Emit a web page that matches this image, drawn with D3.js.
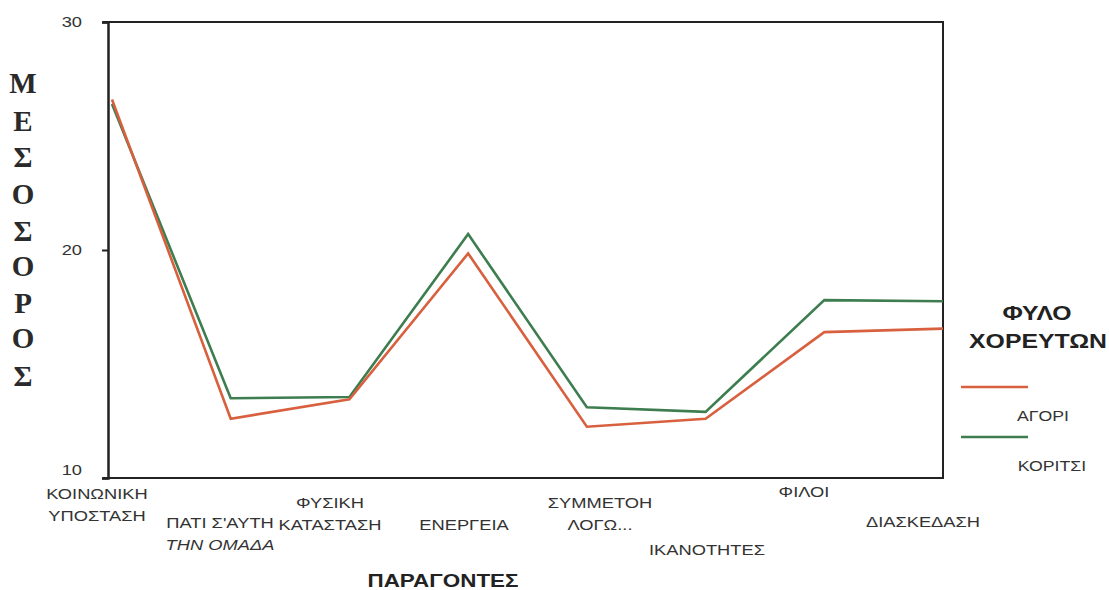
<!DOCTYPE html>
<html><head><meta charset="utf-8">
<script src="https://cdn.jsdelivr.net/npm/d3@7"></script>
<style>
body{margin:0;background:#fff;}
text{font-family:"Liberation Sans",Arial,sans-serif;fill:#333;}
text.serif{font-family:"Liberation Serif","Times New Roman",serif;fill:#2a2a2a;}
</style></head>
<body>
<svg id="c" width="1109" height="590"></svg>
<script>
const categories = ["ΚΟΙΝΩΝΙΚΗ ΥΠΟΣΤΑΣΗ","ΠΑΤΙ Σ'ΑΥΤΗ ΤΗΝ ΟΜΑΔΑ","ΦΥΣΙΚΗ ΚΑΤΑΣΤΑΣΗ","ΕΝΕΡΓΕΙΑ","ΣΥΜΜΕΤΟΗ ΛΟΓΩ...","ΙΚΑΝΟΤΗΤΕΣ","ΦΙΛΟΙ","ΔΙΑΣΚΕΔΑΣΗ"];
const labelLines = [["ΚΟΙΝΩΝΙΚΗ","ΥΠΟΣΤΑΣΗ"],["ΠΑΤΙ Σ'ΑΥΤΗ","ΤΗΝ ΟΜΑΔΑ"],["ΦΥΣΙΚΗ","ΚΑΤΑΣΤΑΣΗ"],["ΕΝΕΡΓΕΙΑ"],["ΣΥΜΜΕΤΟΗ","ΛΟΓΩ..."],["ΙΚΑΝΟΤΗΤΕΣ"],["ΦΙΛΟΙ"],["ΔΙΑΣΚΕΔΑΣΗ"]];
const boys  = [26.6, 12.6, 13.45, 19.85, 12.25, 12.6, 16.4, 16.55];
const girls = [26.4, 13.5, 13.55, 20.7, 13.1, 12.9, 17.8, 17.75];
const yTicks = [10, 20, 30];
const seriesNames = ["ΑΓΟΡΙ","ΚΟΡΙΤΣΙ"];
const legendTitle = ["ΦΥΛΟ","ΧΟΡΕΥΤΩΝ"];
const yTitle = "ΜΕΣΟΣΟΡΟΣ";
const xTitle = "ΠΑΡΑΓΟΝΤΕΣ";

const colors = ["#d8603e", "#3d7d4f"];
const svg = d3.select("#c");
const x = d3.scalePoint().domain(categories).range([112, 943]);
const y = d3.scaleLinear().domain([10, 30]).range([478, 22]);
const STRETCH = 1.18;
function stretch(sel){
  sel.each(function(){ const w=this.getComputedTextLength(); d3.select(this).attr("textLength", w*STRETCH).attr("lengthAdjust","spacingAndGlyphs"); });
}

// frame
const frame = svg.append("g").attr("stroke","#222").attr("stroke-width",2).attr("fill","none");
frame.append("line").attr("x1",103).attr("x2",944).attr("y1",y(30)).attr("y2",y(30));
frame.append("line").attr("x1",943).attr("x2",943).attr("y1",y(30)).attr("y2",y(10)+1);
frame.append("line").attr("x1",103).attr("x2",944).attr("y1",y(10)).attr("y2",y(10));

// y axis
const yAxis = svg.append("g").attr("transform","translate(108,0)")
  .call(d3.axisLeft(y).tickValues(yTicks).tickSize(6).tickPadding(20));
yAxis.select(".domain").attr("stroke","#222").attr("stroke-width",2.5);
yAxis.selectAll(".tick line").attr("stroke","#222").attr("stroke-width",2);
yAxis.selectAll(".tick text").attr("font-size",15.5)
  .attr("dy", d => d===10 ? "-0.2em" : "0.32em");
yAxis.selectAll(".tick text").call(stretch);

// lines
const line = d3.line().x((d,i)=>x(categories[i])).y(d=>y(d));
[girls, boys].forEach((s,k)=>{
  svg.append("path").datum(s).attr("d",line).attr("fill","none")
    .attr("stroke", k===0 ? colors[1] : colors[0]).attr("stroke-width",2.6).attr("stroke-linejoin","miter");
});

// x labels
const labelPos = [[97,494],[220,523],[330,503],[464,525],[600,503],[707,550],[804,492],[923,522]];
categories.forEach((c,i)=>{
  const t = svg.append("text").attr("x",labelPos[i][0]).attr("y",labelPos[i][1]+5)
    .attr("text-anchor","middle").attr("font-size",15.5);
  labelLines[i].forEach((l,j)=>{
    const ts = t.append("tspan").attr("x",labelPos[i][0]).attr("dy", j===0?0:22).text(l);
    if(i===1 && j===1) ts.attr("font-style","italic");
  });
  t.selectAll("tspan").call(stretch);
});

// x title
svg.append("text").attr("x",443).attr("y",587).attr("text-anchor","middle")
  .attr("font-size",19).attr("font-weight","bold").style("fill","#222").text(xTitle).call(stretch);

// y title vertical
const yLetterY = [83,121,157,194,231,266,303,338,376];
yTitle.split("").forEach((ch,i)=>{
  svg.append("text").attr("class","serif").attr("x",23).attr("y",yLetterY[i]+10).attr("text-anchor","middle")
    .attr("font-weight","bold").attr("font-size",29).text(ch);
});

// legend
svg.append("text").attr("x",1037).attr("y",320).attr("text-anchor","middle").attr("font-size",21)
  .attr("font-weight","bold").style("fill","#222").text(legendTitle[0]).call(stretch);
svg.append("text").attr("x",1038).attr("y",348).attr("text-anchor","middle").attr("font-size",21)
  .attr("font-weight","bold").style("fill","#222").text(legendTitle[1]).call(stretch);
const legY = [387, 437];
const legTextX = [1043, 1052];
seriesNames.forEach((n,i)=>{
  svg.append("line").attr("x1",961).attr("x2",1028).attr("y1",legY[i]).attr("y2",legY[i])
    .attr("stroke",colors[i]).attr("stroke-width",2.5);
  svg.append("text").attr("x",legTextX[i]).attr("y",legY[i]+34).attr("text-anchor","middle")
    .attr("font-size",15).text(n).call(stretch);
});
</script>
</body></html>
